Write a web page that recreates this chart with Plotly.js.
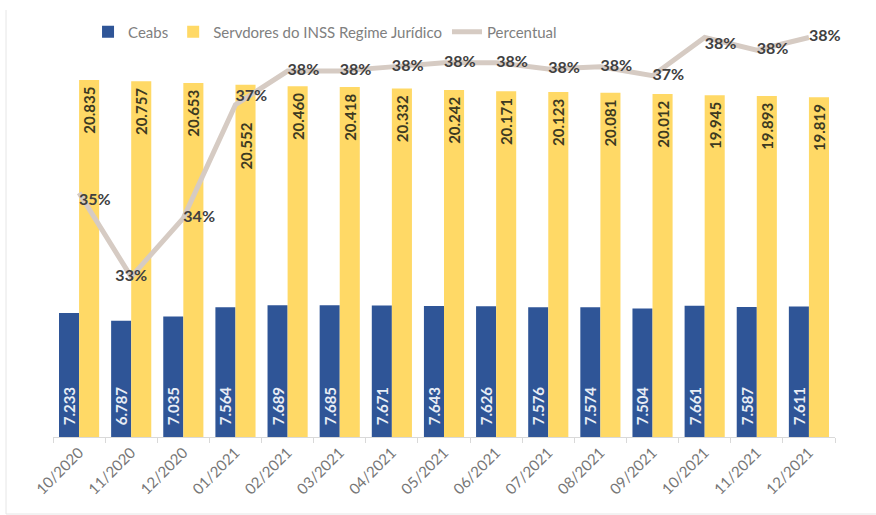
<!DOCTYPE html>
<html>
<head>
<meta charset="utf-8">
<script src="https://cdn.plot.ly/plotly-3.0.1.min.js"></script>
<style>
html,body{margin:0;padding:0;background:#fff;}
#chart{width:876px;height:515px;}
</style>
</head>
<body>
<div id="chart"></div>
<script>
const categories = ['10/2020','11/2020','12/2020','01/2021','02/2021','03/2021','04/2021','05/2021','06/2021','07/2021','08/2021','09/2021','10/2021','11/2021','12/2021'];
const ceabs = [7233,6787,7035,7564,7689,7685,7671,7643,7626,7576,7574,7504,7661,7587,7611];
const servidores = [20835,20757,20653,20552,20460,20418,20332,20242,20171,20123,20081,20012,19945,19893,19819];
const percentual = [0.347,0.327,0.341,0.368,0.376,0.376,0.377,0.378,0.378,0.3765,0.377,0.3749,0.384,0.381,0.384];
const seriesNames = ['Ceabs','Servdores do INSS Regime Jurídico','Percentual'];

// label placement (style only)
const pctPositions = ['bottom right','middle center','middle right','top right','middle right','middle right','middle right','middle right','middle right','middle right','middle right','middle right','bottom right','middle right','middle right'];
const ZW = '\u200b', FS = '\u2007', QS = '\u2005';
const ceabsTemplate = ZW + FS + '%{y:,.0f}';
const servTemplates = categories.map((c,i) => i === 3 ? '%{y:,.0f}' + FS.repeat(4) + ZW : '%{y:,.0f}' + QS + ZW);

const FONT = 'Lato, "Open Sans", sans-serif';

const traces = [
  {
    type:'bar', name:seriesNames[0], x:categories, y:ceabs,
    marker:{color:'#2f5597'},
    texttemplate:ceabsTemplate, textposition:'inside', insidetextanchor:'start',
    textangle:-90, constraintext:'none',
    textfont:{family:FONT, size:15, color:'#e8edf5', weight:'bold'},
    hoverinfo:'skip'
  },
  {
    type:'bar', name:seriesNames[1], x:categories, y:servidores,
    marker:{color:'#ffd966'},
    texttemplate:servTemplates, textposition:'inside', insidetextanchor:'end',
    textangle:-90, constraintext:'none',
    textfont:{family:FONT, size:15, color:'#3d3a22', weight:'bold'},
    hoverinfo:'skip'
  },
  {
    type:'scatter', mode:'lines+text', name:seriesNames[2], x:categories, y:percentual,
    yaxis:'y2',
    line:{color:'#d6cbc3', width:5},
    texttemplate:'%{y:.0%}', textposition:pctPositions,
    textfont:{family:FONT, size:16, color:'#404040', weight:'bold'},
    cliponaxis:false,
    hoverinfo:'skip'
  }
];

const layout = {
  width:876, height:515,
  margin:{l:53, r:41, t:20, b:78, autoexpand:false},
  paper_bgcolor:'#ffffff', plot_bgcolor:'#ffffff',
  separators:',.',
  font:{family:FONT},
  barmode:'group', bargap:0.23, bargroupgap:0.0,
  showlegend:true,
  legend:{orientation:'h', x:0.0448, xanchor:'left', y:0.971, yanchor:'middle',
          font:{family:FONT, size:15, color:'#808080'}, bgcolor:'rgba(0,0,0,0)'},
  xaxis:{type:'category', range:[-0.5,14.5], automargin:false, tickangle:-45, showline:true, linecolor:'#d9d9d9', linewidth:1,
         ticks:'outside', tickson:'boundaries', ticklen:5, tickcolor:'#d9d9d9',
         tickfont:{family:FONT, size:15, color:'#767676'}, showgrid:false, zeroline:false},
  yaxis:{automargin:false, range:[0,24329], showgrid:false, zeroline:false, showticklabels:false, showline:false, ticks:''},
  yaxis2:{automargin:false, range:[0.28888,0.38816], overlaying:'y', side:'right', showgrid:false, zeroline:false,
          showticklabels:false, showline:false, ticks:''},
  shapes:[
    {type:'line', xref:'paper', yref:'paper', x0:-0.0601, x1:-0.0601, y0:1.024, y1:-0.1847, line:{color:'#e6e6e6', width:1}},
    {type:'line', xref:'paper', yref:'paper', x0:-0.0601, x1:1.06, y0:-0.1847, y1:-0.1847, line:{color:'#e6e6e6', width:1}}
  ]
};

Plotly.newPlot('chart', traces, layout, {displayModeBar:false, staticPlot:true});
</script>
</body>
</html>
